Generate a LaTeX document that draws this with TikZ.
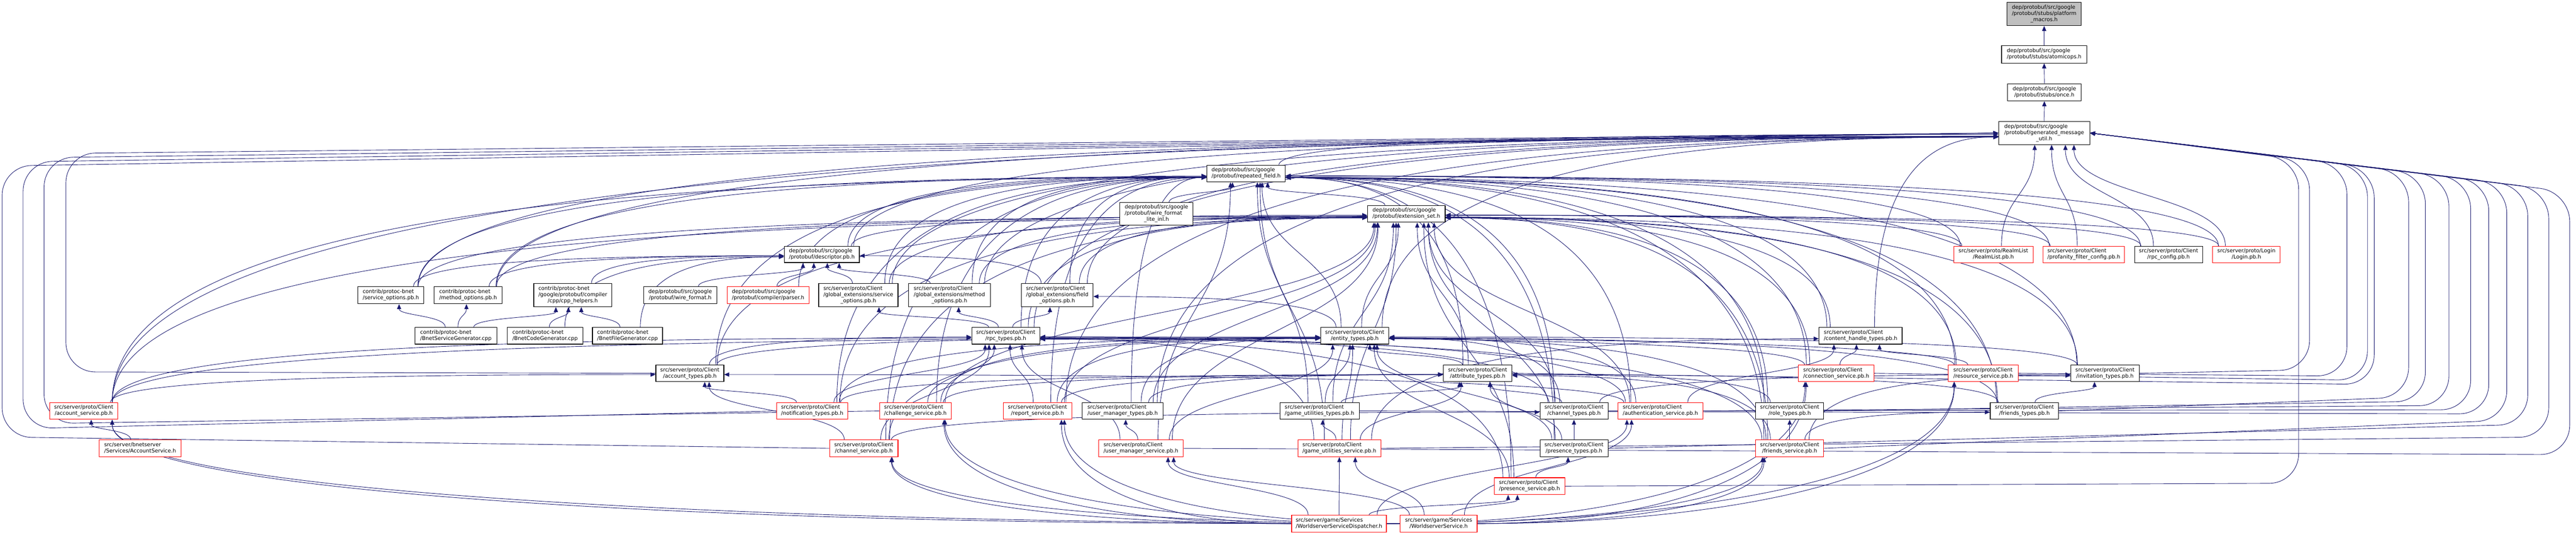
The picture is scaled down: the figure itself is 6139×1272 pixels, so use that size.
\documentclass[tikz,border=0pt]{standalone}
\usepackage{fontspec}
\setmainfont{DejaVu Sans}
\usetikzlibrary{arrows.meta,calc}
\pgfdeclarelayer{bg}
\pgfdeclarelayer{edges}
\pgfsetlayers{bg,edges,main}
\definecolor{mblue}{HTML}{191970}
\definecolor{rootgray}{HTML}{BFBFBF}
\definecolor{nred}{HTML}{FF0000}
\tikzset{
 nb/.style={draw=black, fill=white, line width=1.4pt, inner sep=0pt, font=\fontsize{12.6}{14.7}\selectfont},
 nr/.style={nb, draw=nred},
 nroot/.style={nb, fill=rootgray},
 ed/.style={draw=mblue, line width=1.1pt, -{Triangle[length=12pt,width=10pt]}},
}
\newcommand\Ltwo[2]{\begin{tabular}{@{}l@{}}#1\\\multicolumn{1}{@{}c@{}}{#2}\end{tabular}}
\newcommand\Lthree[3]{\begin{tabular}{@{}l@{}}#1\\#2\\\multicolumn{1}{@{}c@{}}{#3}\end{tabular}}
\newcommand\Cl[1]{\Ltwo{src/server/proto/Client}{/#1}}
\newcommand\N[7]{\node[#5,minimum width={(#2-#1)*1pt},minimum height={(#4-#3)*1pt}] (#6) at ({(#1+#2)/2},{-(#3+#4)/2}) {#7};}
% edge: straight up (north of source to south of target)
\newcommand\eU[2]{\draw[ed] let \p1=(#1.north west),\p2=(#1.north east),\p3=(#2.south west),\p4=(#2.south east),
  \n1={0.5*(\x1+\x2)},\n2={0.5*(\x3+\x4)},
  \n3={\n1+(0.5*(\x2-\x1)-14)*tanh(max(-3,min(3,(\n2-\n1)/500)))},
  \n4={\n2+(0.5*(\x4-\x3)-14)*tanh(max(-3,min(3,(\n1-\n2)/500)))},
  \n5={0.5*(\y1+\y3)} in (\n3,\y1) .. controls (\n3,\n5) and (\n4,\n5) .. (\n4,\y3);}
% edge: source left of target, enters target west side
\newcommand\eL[2]{\draw[ed] let \p1=(#1.north west),\p2=(#1.north east),\p3=(#2.west),\p4=(#1.center),
  \n1={0.5*(\x1+\x2)},
  \n2={\n1+(0.5*(\x2-\x1)-14)*tanh(max(-3,min(3,(\x3-\n1)/800)))},
  \n3={\y3+10*tanh(max(-3,min(3,(\y4-\y3)/300)))} in
  (\n2,\y1) .. controls (\n2,{\y1+0.85*(\n3-\y1)}) and ({\x3-0.5*(\x3-\n2)},\n3) .. (\x3,\n3);}
% edge: source right of target, enters target east side
\newcommand\eR[2]{\draw[ed] let \p1=(#1.north west),\p2=(#1.north east),\p3=(#2.east),\p4=(#1.center),
  \n1={0.5*(\x1+\x2)},
  \n2={\n1+(0.5*(\x2-\x1)-14)*tanh(max(-3,min(3,(\x3-\n1)/800)))},
  \n3={\y3+10*tanh(max(-3,min(3,(\y4-\y3)/300)))} in
  (\n2,\y1) .. controls (\n2,{\y1+0.85*(\n3-\y1)}) and ({\x3+0.5*(\n2-\x3)},\n3) .. (\x3,\n3);}
% edge: leaves source west side, goes left, rises into target south
\newcommand\eLS[2]{\draw[ed] let \p1=(#1.west),\p3=(#2.south west),\p4=(#2.south east),
  \n2={0.5*(\x3+\x4)},
  \n4={\n2+(0.5*(\x4-\x3)-14)*tanh(max(-3,min(3,(\x1-\n2)/500)))} in
  (\p1) .. controls ({0.5*(\x1+\n4)},\y1) and (\n4,{\y1+0.3*(\y3-\y1)}) .. (\n4,\y3);}
\newcommand\eRS[2]{\draw[ed] let \p1=(#1.east),\p3=(#2.south west),\p4=(#2.south east),
  \n2={0.5*(\x3+\x4)},
  \n4={\n2+(0.5*(\x4-\x3)-14)*tanh(max(-3,min(3,(\x1-\n2)/500)))} in
  (\p1) .. controls ({0.5*(\x1+\n4)},\y1) and (\n4,{\y1+0.3*(\y3-\y1)}) .. (\n4,\y3);}
% loops around the sides to generated_message_util.h
\newcommand\lpL[4]{\draw[ed,rounded corners=70pt] (#1.west) -- (#2,-#3) -- (#2,-#4) -- (gmu.west);}
\newcommand\lpR[4]{\draw[ed,rounded corners=70pt] (#1.east) -- (#2,-#3) -- (#2,-#4) -- (gmu.east);}

\begin{document}
\begin{tikzpicture}[x=1pt,y=1pt]
\useasboundingbox (0,0) rectangle (6139,-1272);
\begin{pgfonlayer}{bg}\fill[white] (0,0) rectangle (6139,-1272);\end{pgfonlayer}
% ---------- nodes ----------
\N{4783}{4960}{6}{61}{nroot}{pm}{\Lthree{dep/protobuf/src/google}{/protobuf/stubs/platform}{\_macros.h}}
\N{4770}{4973}{109}{150}{nb}{ao}{\Ltwo{dep/protobuf/src/google}{/protobuf/stubs/atomicops.h}}
\N{4784}{4960}{199}{240}{nb}{once}{\Ltwo{dep/protobuf/src/google}{/protobuf/stubs/once.h}}
\N{4763}{4980}{289}{344}{nb}{gmu}{\Lthree{dep/protobuf/src/google}{/protobuf/generated\_message}{\_util.h}}
\N{2876}{3063}{393}{433}{nb}{rf}{\Ltwo{dep/protobuf/src/google}{/protobuf/repeated\_field.h}}
\N{2669}{2843}{482}{536}{nb}{wfli}{\Lthree{dep/protobuf/src/google}{/protobuf/wire\_format}{\_lite\_inl.h}}
\N{3259}{3444}{489}{529}{nb}{es}{\Ltwo{dep/protobuf/src/google}{/protobuf/extension\_set.h}}
\N{1869}{2048}{586}{625}{nb}{dpb}{\Ltwo{dep/protobuf/src/google}{/protobuf/descriptor.pb.h}}
\N{4656}{4845}{586}{626}{nr}{realm}{\Ltwo{src/server/proto/RealmList}{/RealmList.pb.h}}
\N{4869}{5063}{586}{626}{nr}{prof}{\Cl{profanity\_filter\_config.pb.h}}
\N{5087}{5249}{586}{626}{nb}{rpccfg}{\Cl{rpc\_config.pb.h}}
\N{5273}{5434}{586}{626}{nr}{login}{\Ltwo{src/server/proto/Login}{/Login.pb.h}}
\N{853}{1010}{682}{723}{nb}{svcopt}{\Ltwo{contrib/protoc-bnet}{/service\_options.pb.h}}
\N{1034}{1197}{682}{723}{nb}{methopt}{\Ltwo{contrib/protoc-bnet}{/method\_options.pb.h}}
\N{1272}{1458}{675}{730}{nb}{cpph}{\Lthree{contrib/protoc-bnet}{/google/protobuf/compiler}{/cpp/cpp\_helpers.h}}
\N{1534}{1708}{682}{723}{nb}{wf}{\Ltwo{dep/protobuf/src/google}{/protobuf/wire\_format.h}}
\N{1733}{1928}{682}{723}{nr}{parser}{\Ltwo{dep/protobuf/src/google}{/protobuf/compiler/parser.h}}
\N{1951}{2140}{675}{730}{nb}{gesvc}{\Lthree{src/server/proto/Client}{/global\_extensions/service}{\_options.pb.h}}
\N{2165}{2360}{675}{730}{nb}{gemeth}{\Lthree{src/server/proto/Client}{/global\_extensions/method}{\_options.pb.h}}
\N{2434}{2605}{675}{730}{nb}{gefield}{\Lthree{src/server/proto/Client}{/global\_extensions/field}{\_options.pb.h}}
\N{989}{1184}{779}{819}{nb}{bsg}{\Ltwo{contrib/protoc-bnet}{/BnetServiceGenerator.cpp}}
\N{1209}{1389}{779}{819}{nb}{bcg}{\Ltwo{contrib/protoc-bnet}{/BnetCodeGenerator.cpp}}
\N{1412}{1579}{779}{819}{nb}{bfg}{\Ltwo{contrib/protoc-bnet}{/BnetFileGenerator.cpp}}
\N{2316}{2478}{779}{819}{nb}{rpct}{\Cl{rpc\_types.pb.h}}
\N{3147}{3310}{779}{819}{nb}{ent}{\Cl{entity\_types.pb.h}}
\N{4335}{4533}{779}{819}{nb}{cht}{\Cl{content\_handle\_types.pb.h}}
\N{1563}{1725}{869}{908}{nb}{acct}{\Cl{account\_types.pb.h}}
\N{3440}{3603}{869}{908}{nb}{attr}{\Cl{attribute\_types.pb.h}}
\N{4286}{4466}{869}{908}{nr}{conn}{\Cl{connection\_service.pb.h}}
\N{4643}{4810}{869}{908}{nr}{res}{\Cl{resource\_service.pb.h}}
\N{4935}{5098}{869}{908}{nb}{inv}{\Cl{invitation\_types.pb.h}}
\N{118}{281}{958}{998}{nr}{accsvc}{\Cl{account\_service.pb.h}}
\N{1851}{2020}{958}{998}{nr}{notif}{\Cl{notification\_types.pb.h}}
\N{2096}{2267}{958}{998}{nr}{chal}{\Cl{challenge\_service.pb.h}}
\N{2391}{2554}{958}{998}{nr}{rep}{\Cl{report\_service.pb.h}}
\N{2579}{2772}{958}{998}{nb}{umt}{\Cl{user\_manager\_types.pb.h}}
\N{3050}{3239}{958}{998}{nb}{gut}{\Cl{game\_utilities\_types.pb.h}}
\N{3670}{3832}{958}{998}{nb}{chty}{\Cl{channel\_types.pb.h}}
\N{3856}{4058}{958}{998}{nr}{auth}{\Cl{authentication\_service.pb.h}}
\N{4184}{4346}{958}{998}{nb}{role}{\Cl{role\_types.pb.h}}
\N{4743}{4906}{958}{998}{nb}{frt}{\Cl{friends\_types.pb.h}}
\N{236}{432}{1047}{1087}{nr}{accsvch}{\Ltwo{src/server/bnetserver}{/Services/AccountService.h}}
\N{1977}{2140}{1047}{1087}{nr}{chsvc}{\Cl{channel\_service.pb.h}}
\N{2618}{2820}{1047}{1087}{nr}{ums}{\Cl{user\_manager\_service.pb.h}}
\N{3093}{3291}{1047}{1087}{nr}{gus}{\Cl{game\_utilities\_service.pb.h}}
\N{3670}{3832}{1047}{1087}{nb}{prt}{\Cl{presence\_types.pb.h}}
\N{4184}{4346}{1047}{1087}{nr}{frs}{\Cl{friends\_service.pb.h}}
\N{3561}{3729}{1137}{1177}{nr}{prs}{\Cl{presence\_service.pb.h}}
\N{3078}{3304}{1226}{1266}{nr}{wsd}{\Ltwo{src/server/game/Services}{/WorldserverServiceDispatcher.h}}
\N{3337}{3520}{1226}{1266}{nr}{ws}{\Ltwo{src/server/game/Services}{/WorldserverService.h}}
% ---------- edges ----------
\begin{pgfonlayer}{edges}
\eU{ao}{pm}
\eU{once}{ao}
\eU{gmu}{once}
\eL{rf}{gmu}
\eU{wfli}{rf}
\eU{es}{rf}
% generated_message_util.h
\foreach \s in {dpb,svcopt,methopt,gesvc,gemeth,gefield,rpct,ent,cht,accsvc,rep,umt}{\eL{\s}{gmu}}
\foreach \s in {realm,prof,rpccfg,login}{\eU{\s}{gmu}}
\lpL{chsvc}{5}{1040}{395}
\lpL{notif}{55}{1020}{385}
\lpL{chal}{105}{1008}{375}
\lpL{acct}{157}{885}{365}
\lpR{ums}{6124}{1082}{457}
\lpR{gus}{6074}{1040}{450}
\lpR{prt}{6024}{1010}{444}
\lpR{frs}{5974}{1000}{437}
\lpR{gut}{5931}{985}{432}
\lpR{chty}{5888}{975}{427}
\lpR{auth}{5836}{965}{421}
\lpR{role}{5780}{955}{415}
\lpR{frt}{5740}{945}{410}
\lpR{attr}{5658}{915}{400}
\lpR{conn}{5642}{905}{398}
\lpR{res}{5593}{895}{392}
\lpR{inv}{5504}{880}{383}
\lpR{prs}{5478}{1150}{380}
% repeated_field.h
\foreach \s in {dpb,svcopt,methopt,gesvc,gemeth,gefield,rpct,acct,accsvc,notif,chal,rep,umt,chsvc,parser}{\eL{\s}{rf}}
\foreach \s in {ent,gut,gus,ums}{\eU{\s}{rf}}
\foreach \s in {attr,cht,chty,auth,conn,res,inv,role,frt,prt,frs,prs,realm,prof,rpccfg,login}{\eR{\s}{rf}}
% extension_set.h
\foreach \s in {ent,gut,gus,attr,chty,prt,prs,auth,umt,ums,rep,chal}{\eU{\s}{es}}
\foreach \s in {dpb,svcopt,methopt,gesvc,gemeth,gefield,rpct,acct,accsvc,notif,chsvc}{\eL{\s}{es}}
\foreach \s in {cht,conn,res,inv,role,frt,frs,realm,prof,rpccfg,login}{\eR{\s}{es}}
% descriptor.pb.h
\foreach \s in {svcopt,methopt,cpph,bcg,bfg}{\eL{\s}{dpb}}
\foreach \s in {wf,parser,gesvc,gemeth}{\eU{\s}{dpb}}
\eR{gefield}{dpb}
% protoc-bnet
\eU{bsg}{svcopt} \eU{bsg}{methopt} \eU{bsg}{cpph} \eU{bcg}{cpph} \eU{bfg}{cpph}
% proto imports
\eU{rpct}{gesvc} \eU{rpct}{gemeth} \eU{rpct}{gefield}
\eR{ent}{gefield}
\eL{acct}{ent} \eL{acct}{rpct}
\eL{accsvc}{acct} \eL{accsvc}{ent} \eL{accsvc}{rpct}
\eU{attr}{ent}
\eR{auth}{acct} \eU{auth}{cht} \eR{auth}{ent} \eR{auth}{rpct}
\eL{chal}{attr} \eL{chal}{ent} \eU{chal}{rpct}
\eU{chsvc}{acct} \eL{chsvc}{chty} \eL{chsvc}{ent} \eU{chsvc}{rpct}
\eU{chty}{attr} \eR{chty}{ent} \eL{chty}{inv} \eR{chty}{rpct}
\eU{conn}{cht} \eR{conn}{rpct}
\eR{frs}{attr} \eR{frs}{ent} \eL{frs}{frt} \eL{frs}{inv} \eU{frs}{role} \eR{frs}{rpct}
\eR{frt}{attr} \eR{frt}{ent} \eU{frt}{inv}
\eU{gus}{attr} \eL{gus}{cht} \eU{gus}{ent} \eU{gus}{gut} \eR{gus}{rpct}
\eU{gut}{attr} \eU{gut}{ent}
\eR{inv}{ent}
\eU{notif}{acct} \eL{notif}{attr} \eL{notif}{ent} \eU{notif}{rpct}
\eU{prs}{ent} \eU{prs}{prt} \eR{prs}{rpct}
\eU{prt}{attr} \eU{prt}{chty} \eU{prt}{ent}
\eL{rep}{attr} \eL{rep}{ent} \eU{rep}{rpct}
\eU{res}{cht} \eR{res}{rpct}
\eR{role}{attr}
\eU{ums}{ent} \eU{ums}{rpct} \eU{ums}{umt}
\eL{umt}{ent} \eL{umt}{attr}
\eU{accsvch}{accsvc}
\foreach \w in {wsd,ws}{
 \eLS{\w}{accsvc} \eLS{\w}{chsvc} \eLS{\w}{chal} \eLS{\w}{rep}
 \eU{\w}{ums} \eU{\w}{gus} \eU{\w}{prs} \eU{\w}{auth}
 \eRS{\w}{conn} \eRS{\w}{res} \eRS{\w}{frs}}
\end{pgfonlayer}
\end{tikzpicture}
\end{document}
